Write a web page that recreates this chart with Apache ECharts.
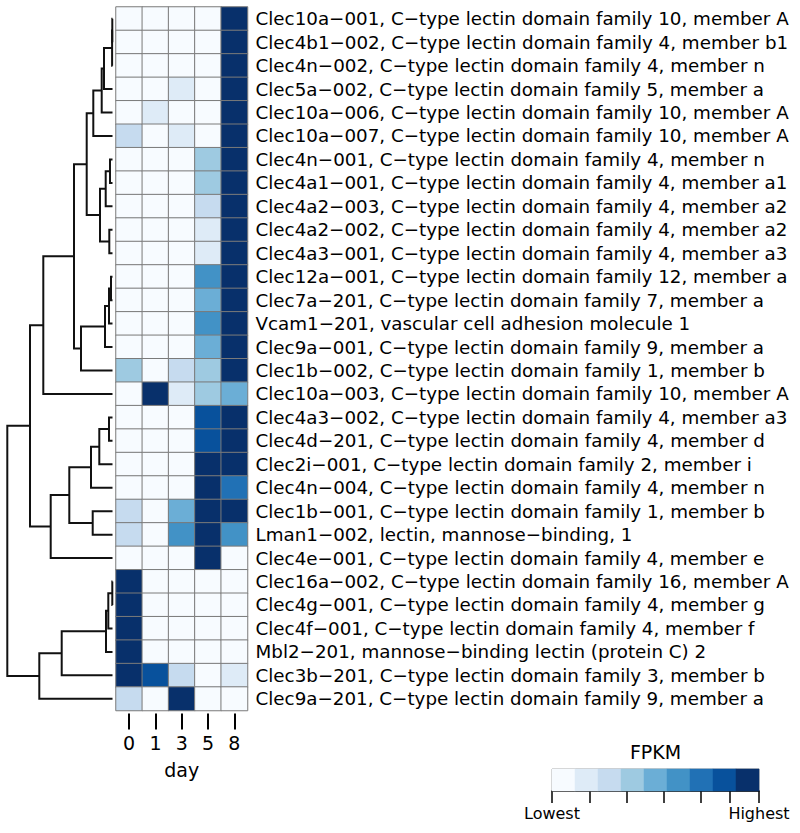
<!DOCTYPE html>
<html>
<head>
<meta charset="utf-8">
<script src="https://cdn.jsdelivr.net/npm/echarts@6/dist/echarts.min.js"></script>
<style>
html,body{margin:0;padding:0;background:#fff;}
#chart{width:800px;height:833px;}
</style>
</head>
<body>
<div id="chart"></div>
<script>
// ---------- data ----------
const days = ['0', '1', '3', '5', '8'];
const rowLabels = [
  'Clec10a−001, C−type lectin domain family 10, member A',
  'Clec4b1−002, C−type lectin domain family 4, member b1',
  'Clec4n−002, C−type lectin domain family 4, member n',
  'Clec5a−002, C−type lectin domain family 5, member a',
  'Clec10a−006, C−type lectin domain family 10, member A',
  'Clec10a−007, C−type lectin domain family 10, member A',
  'Clec4n−001, C−type lectin domain family 4, member n',
  'Clec4a1−001, C−type lectin domain family 4, member a1',
  'Clec4a2−003, C−type lectin domain family 4, member a2',
  'Clec4a2−002, C−type lectin domain family 4, member a2',
  'Clec4a3−001, C−type lectin domain family 4, member a3',
  'Clec12a−001, C−type lectin domain family 12, member a',
  'Clec7a−201, C−type lectin domain family 7, member a',
  'Vcam1−201, vascular cell adhesion molecule 1',
  'Clec9a−001, C−type lectin domain family 9, member a',
  'Clec1b−002, C−type lectin domain family 1, member b',
  'Clec10a−003, C−type lectin domain family 10, member A',
  'Clec4a3−002, C−type lectin domain family 4, member a3',
  'Clec4d−201, C−type lectin domain family 4, member d',
  'Clec2i−001, C−type lectin domain family 2, member i',
  'Clec4n−004, C−type lectin domain family 4, member n',
  'Clec1b−001, C−type lectin domain family 1, member b',
  'Lman1−002, lectin, mannose−binding, 1',
  'Clec4e−001, C−type lectin domain family 4, member e',
  'Clec16a−002, C−type lectin domain family 16, member A',
  'Clec4g−001, C−type lectin domain family 4, member g',
  'Clec4f−001, C−type lectin domain family 4, member f',
  'Mbl2−201, mannose−binding lectin (protein C) 2',
  'Clec3b−201, C−type lectin domain family 3, member b',
  'Clec9a−201, C−type lectin domain family 9, member a'
];
// FPKM level (0 = lowest … 8 = highest) per day, one entry per row
const day0 = [0,0,0,0,0,2,0,0,0,0,0,0,0,0,0,3,0,0,0,0,0,2,2,0,8,8,8,8,8,2];
const day1 = [0,0,0,0,1,0,0,0,0,0,0,0,0,0,0,0,8,0,0,0,0,0,0,0,0,0,0,0,7,0];
const day3 = [0,0,0,1,0,1,0,0,0,0,0,0,0,0,0,2,1,0,0,0,0,4,5,0,0,0,0,0,2,8];
const day5 = [0,0,0,0,0,0,3,3,2,1,1,5,4,5,4,3,3,7,7,8,8,8,8,8,0,0,0,0,0,0];
const day8 = [8,8,8,8,8,8,8,8,8,8,8,8,8,8,8,8,4,8,8,8,6,8,5,0,0,0,0,0,1,0];
// hierarchical clustering merges (hclust style): negative = leaf row (1-based), positive = merge step
const mergeA = [-1, 1, 2, 3, 4, -7, 6, -10, 7, 5, -12, 11, 12, 13, 10, 15, -18, 17, 18, -22, 19, 21, 16, -25, 24, 25, 26, 27, 23];
const mergeB = [-2, -3, -4, -5, -6, -8, -9, -11, 8, 9, -13, -14, -15, -16, 14, -17, -19, -20, -21, -23, 20, -24, 22, -26, -27, -28, -29, -30, 28];
const mergeHeight = [0.2, 0.4, 8.5, 10.8, 19.2, 2.5, 6.8, 3.2, 12.5, 25.8, 1.5, 3.5, 7.5, 31.5, 38.5, 69.2, 3.5, 13.2, 21.5, 19.8, 43.2, 61.8, 82.5, 0.2, 4.2, 6.5, 50.8, 73.2, 105.2];
// legend
const legendLevels = [0,1,2,3,4,5,6,7,8];
const legendTicks = [0, 1.65, 3.25, 4.87, 6.48, 7.74, 9];
const legendTickLabels = ['Lowest', 'Highest'];
const blues = ['#F7FBFF','#DEEBF7','#C6DBEF','#9ECAE1','#6BAED6','#4292C6','#2171B5','#08519C','#08306B'];

// ---------- build ----------
const FONT = 'DejaVu Sans';
const dayCols = [day0, day1, day3, day5, day8];
const heatData = [];
dayCols.forEach((col, c) => col.forEach((v, r) => heatData.push([c, r, v])));
const legendData = legendLevels.map(l => [l, 0, l]);

// dendrogram segments
const nodeY = [], nodeH = [];
function pos(id) {
  if (id < 0) return { y: -id - 0.5, h: 0 };
  return { y: nodeY[id - 1], h: nodeH[id - 1] };
}
const dendroData = [];
for (let i = 0; i < mergeA.length; i++) {
  const a = pos(mergeA[i]), b = pos(mergeB[i]);
  const h = mergeHeight[i];
  nodeY.push((a.y + b.y) / 2);
  nodeH.push(h);
  dendroData.push([a.h, a.y, h, b.y, b.h]);
}
const rootH = mergeHeight[mergeHeight.length - 1];

const chart = echarts.init(document.getElementById('chart'), null, { renderer: 'svg' });
const GT = 7, GH = 703.5;
chart.setOption({
  animation: false,
  backgroundColor: '#fff',
  textStyle: { fontFamily: FONT },
  grid: [
    { left: 7.3, top: GT, width: 105.2, height: GH },
    { left: 116, top: GT, width: 131.5, height: GH },
    { left: 552, top: 769, width: 207, height: 22, show: true, borderColor: '#999', borderWidth: 1 }
  ],
  xAxis: [
    { gridIndex: 0, type: 'value', min: 0, max: rootH, inverse: true, show: false },
    { gridIndex: 1, type: 'category', data: days, position: 'bottom', offset: 3,
      axisLine: { show: false },
      axisTick: { show: true, alignWithLabel: true, length: 16, lineStyle: { color: '#000', width: 2 } },
      axisLabel: { fontSize: 19, color: '#000', margin: 20, fontFamily: FONT },
      name: 'day', nameLocation: 'middle', nameGap: 47,
      nameTextStyle: { fontSize: 19, color: '#000', fontFamily: FONT },
      splitLine: { show: false } },
    { gridIndex: 2, type: 'category', data: legendLevels, show: false },
    { gridIndex: 2, type: 'value', min: 0, max: 9, position: 'bottom',
      axisLine: { show: true, lineStyle: { color: '#000', width: 1.5 } },
      axisTick: { show: true, length: 12, customValues: legendTicks, lineStyle: { color: '#000', width: 1.5 } },
      axisLabel: { show: true, customValues: [0, 9], margin: 14, fontSize: 16, color: '#000', fontFamily: FONT,
        formatter: v => (v === 0 ? legendTickLabels[0] : legendTickLabels[1]) },
      splitLine: { show: false } }
  ],
  yAxis: [
    { gridIndex: 0, type: 'value', min: 0, max: rowLabels.length, inverse: true, show: false },
    { gridIndex: 1, type: 'category', data: rowLabels, inverse: true, position: 'right',
      axisLine: { show: false }, axisTick: { show: false },
      axisLabel: { interval: 0, fontSize: 18.3, color: '#000', margin: 8, fontFamily: FONT },
      splitLine: { show: false } },
    { gridIndex: 2, type: 'category', data: ['FPKM'], show: false }
  ],
  visualMap: {
    type: 'piecewise', show: false, dimension: 2, seriesIndex: [1, 2],
    pieces: legendLevels.map(l => ({ value: l, color: blues[l] }))
  },
  graphic: [
    { type: 'text', x: 655.5, y: 752, style: { text: 'FPKM', fill: '#000', font: '19px "' + FONT + '"', align: 'center', verticalAlign: 'middle' } }
  ],
  series: [
    { type: 'custom', xAxisIndex: 0, yAxisIndex: 0, clip: false, data: dendroData,
      encode: { x: [0, 2, 4], y: [1, 3] },
      renderItem: function (params, api) {
        const p1 = api.coord([api.value(0), api.value(1)]);
        const p2 = api.coord([api.value(2), api.value(1)]);
        const p3 = api.coord([api.value(2), api.value(3)]);
        const p4 = api.coord([api.value(4), api.value(3)]);
        return { type: 'polyline', shape: { points: [p1, p2, p3, p4] },
          style: { stroke: '#111', lineWidth: 2, fill: null } };
      } },
    { type: 'heatmap', xAxisIndex: 1, yAxisIndex: 1, data: heatData,
      itemStyle: { borderColor: '#7a7a7a', borderWidth: 1 } },
    { type: 'heatmap', xAxisIndex: 2, yAxisIndex: 2, data: legendData,
      itemStyle: { borderWidth: 0 } }
  ]
});
</script>
</body>
</html>
